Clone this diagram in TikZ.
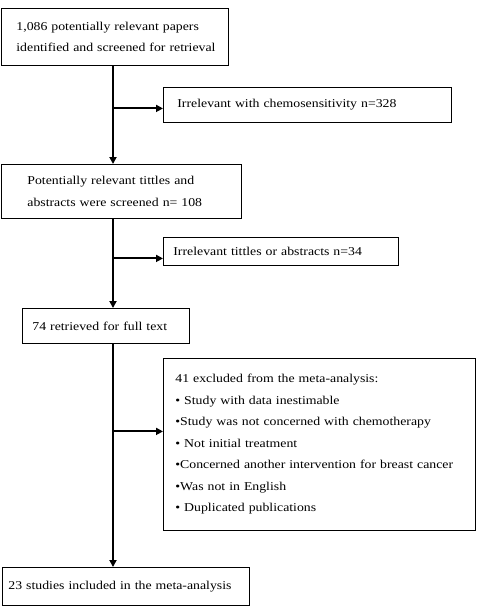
\documentclass[tikz,border=0pt]{standalone}
\usepackage{fontspec}
\setmainfont[FakeStretch=1.15]{Liberation Serif}
\usetikzlibrary{arrows.meta,calc}
\begin{document}
\begin{tikzpicture}[x=1pt,y=-1pt,
  box/.style={draw,line width=0.8pt,anchor=north west,align=left,inner ysep=0pt,
    font=\fontsize{12}{21.5}\selectfont},
  arr/.style={line width=2pt,-{Triangle[length=7pt,width=7pt]}}]
\useasboundingbox (0,0) rectangle (479,606);
\coordinate (spine) at (113,0);
\node[box,text width=205pt,inner xsep=11pt,minimum height=57pt] (b1) at (1,8)
  {\hspace{4pt}1,086 potentially relevant papers\\\hspace{4pt}identified and screened for retrieval};
\node[box,text width=276pt,inner xsep=6pt,minimum height=35pt] (e1) at (163,87)
  {\hspace{8pt}Irrelevant with chemosensitivity n=328};
\node[box,text width=226pt,inner xsep=7pt,minimum height=54pt] (b2) at (1,164)
  {\hspace{19pt}Potentially relevant tittles and\\\hspace{19pt}abstracts were screened n= 108};
\node[box,text width=215pt,inner xsep=10pt,minimum height=28pt] (e2) at (163,237)
  {Irrelevant tittles or abstracts n=34};
\node[box,text width=147pt,inner xsep=10pt,minimum height=35pt] (b3) at (22,308)
  {74 retrieved for full text};
\node[box,text width=300pt,inner xsep=6pt,minimum height=172pt] (e3) at (163,358)
  {\hspace{6pt}41 excluded from the meta-analysis:\\
   \hspace{6pt}• Study with data inestimable\\
   \hspace{6pt}•Study was not concerned with chemotherapy\\
   \hspace{6pt}• Not initial treatment\\
   \hspace{6pt}•Concerned another intervention for breast cancer\\
   \hspace{6pt}•Was not in English\\
   \hspace{6pt}• Duplicated publications\\[8pt]};
\node[box,text width=239pt,inner xsep=4pt,minimum height=38pt] (b4) at (2,567)
  {\hspace{2pt}23 studies included in the meta-analysis};
\draw[arr] (b1.south -| spine) -- (b2.north -| spine);
\draw[arr] (spine |- {$(e1.west)+(0,3.5)$}) -- ($(e1.west)+(0,3.5)$);
\draw[arr] (b2.south -| spine) -- (b3.north -| spine);
\draw[arr] (spine |- {$(e2.west)+(0,7)$}) -- ($(e2.west)+(0,7)$);
\draw[arr] (b3.south -| spine) -- (b4.north -| spine);
\draw[arr] (spine |- {$(e3.west)+(0,-13)$}) -- ($(e3.west)+(0,-13)$);
\end{tikzpicture}
\end{document}
